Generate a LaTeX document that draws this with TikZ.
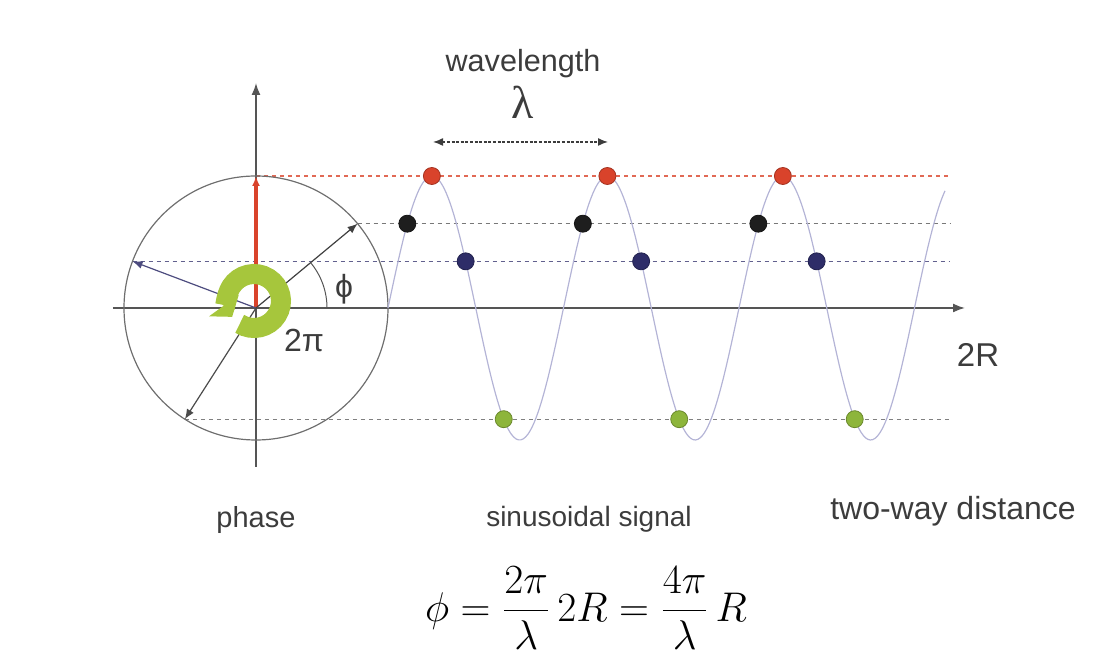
\documentclass[tikz,border=0pt]{standalone}
\usepackage{fontspec}
\setmainfont{Liberation Sans}
\newfontfamily\symfont{Liberation Serif}
\usepackage{tikz}
\usetikzlibrary{arrows.meta}
\tikzset{every picture/.append style={font=\fontsize{14.5}{17}\selectfont}}
\definecolor{figink}{HTML}{3C3C3C}
\definecolor{figaxis}{HTML}{555555}
\definecolor{figred}{HTML}{D9432B}
\definecolor{figdark}{HTML}{1E1E1E}
\definecolor{fignavy}{HTML}{2E2D68}
\definecolor{figgreen}{HTML}{8DB53B}
\definecolor{figring}{HTML}{A6C63C}
\definecolor{figwave}{HTML}{B4B4D6}

\begin{document}
\begin{tikzpicture}[x=0.5pt,y=0.5pt,
    guide/.style={dash pattern=on 2pt off 2pt,line width=0.6pt},
    phasor/.style={-{Latex[length=5pt,width=4pt]},line width=0.6pt},
    sample/.style={circle,inner sep=0pt,minimum size=8.5pt,draw=#1!75!black,fill=#1,line width=0.4pt},
    axisline/.style={-{Latex[length=6pt,width=4.5pt]},figaxis,line width=0.8pt}]
    \useasboundingbox (-256,-359) rectangle (853,308);
    \coordinate (O) at (0,0);
    \coordinate (guideEnd) at (694,0);
    % phasor tips on the circle
    \coordinate (tipR) at (90:132);
    \coordinate (tipK) at (39.7:132);
    \coordinate (tipB) at (159.3:132);
    \coordinate (tipG) at (237.4:132);
    \draw[guide,figred!80] (tipR) -- (tipR -| guideEnd);
    \draw[guide,figdark!60] (tipK) -- (tipK -| guideEnd);
    \draw[guide,fignavy!75] (tipB) -- (tipB -| guideEnd);
    \draw[guide,gray] (tipG) -- (tipG -| guideEnd);
    % axes
    \coordinate (xa0) at (-143,0);
    \coordinate (xa1) at (709,0);
    \coordinate (ya0) at (0,-159);
    \coordinate (ya1) at (0,225);
    \draw[axisline] (xa0) -- (xa1);
    \draw[axisline] (ya0) -- (ya1);
    \draw[figaxis!85,line width=0.6pt] (O) circle (132);
    % phasors
    \draw[phasor,figred,line width=1.6pt] (O) -- (tipR);
    \draw[phasor,figdark!85] (O) -- (tipK);
    \draw[phasor,fignavy!85] (O) -- (tipB);
    \draw[phasor,figdark!80] (O) -- (tipG);
    % full turn
    \coordinate (hub) at (-2,7);
    \draw[figring,line width=10pt,-{Triangle[length=7pt,width=18pt]}]
      ([shift={(238:27)}]hub) arc[start angle=238,end angle=576,radius=27];
    \draw[figaxis,line width=0.5pt] ([shift={(0:71)}]O) arc[start angle=0,end angle=39.7,radius=71];
    \node[figink,font=\fontsize{16}{18}\selectfont] (phi) at (88,19) {ϕ};
    \node[figink,font=\fontsize{16}{18}\selectfont] (turn) at (48,-32) {2π};
    % signal
    \draw[figwave,line width=0.6pt] plot[domain=132:689,samples=240,smooth]
      (\x,{132*sin((\x-132)/175.5*360)});
    \foreach \k in {0,1,2} {
      \node[sample=figred] (peak\k) at ({132+(0.25+\k)*175.5},132) {};
      \node[sample=figdark] (rise\k) at ({132+(0.1103+\k)*175.5},{132*sin(39.7)}) {};
      \node[sample=fignavy] (fall\k) at ({132+(0.4425+\k)*175.5},{132*sin(159.3)}) {};
      \node[sample=figgreen] (low\k) at ({132+(0.6594+\k)*175.5},{132*sin(237.4)}) {};
    }
    % wavelength
    \coordinate (wlA) at (177,166);
    \coordinate (wlB) at (352,166);
    \draw[figink,dash pattern=on 1.5pt off 0.8pt,line width=0.7pt,
      {Latex[length=5pt,width=4pt]}-{Latex[length=5pt,width=4pt]}] (wlA) -- (wlB);
    \node[figink,font=\fontsize{15.3}{18}\selectfont] (wl) at (267,244) {wavelength};
    \node[figink,font=\symfont\fontsize{23}{26}\selectfont] (lam) at (267,206) {λ};
    % labels
    \node[figink,font=\fontsize{16.5}{19}\selectfont] (dist) at (722,-47) {2R};
    \node[figink] (lphase) at (0,-212) {phase};
    \node[figink,font=\fontsize{14}{17}\selectfont] (lsig) at (333,-211) {sinusoidal signal};
    \node[figink,font=\fontsize{16}{19}\selectfont] (ldist) at (697,-203) {two-way distance};
    \node[black,font=\fontsize{21}{25}\selectfont] (eq) at (330,-300)
      {$\displaystyle \phi=\frac{2\pi}{\lambda}\,2R=\frac{4\pi}{\lambda}\,R$};
  \end{tikzpicture}
\end{document}
